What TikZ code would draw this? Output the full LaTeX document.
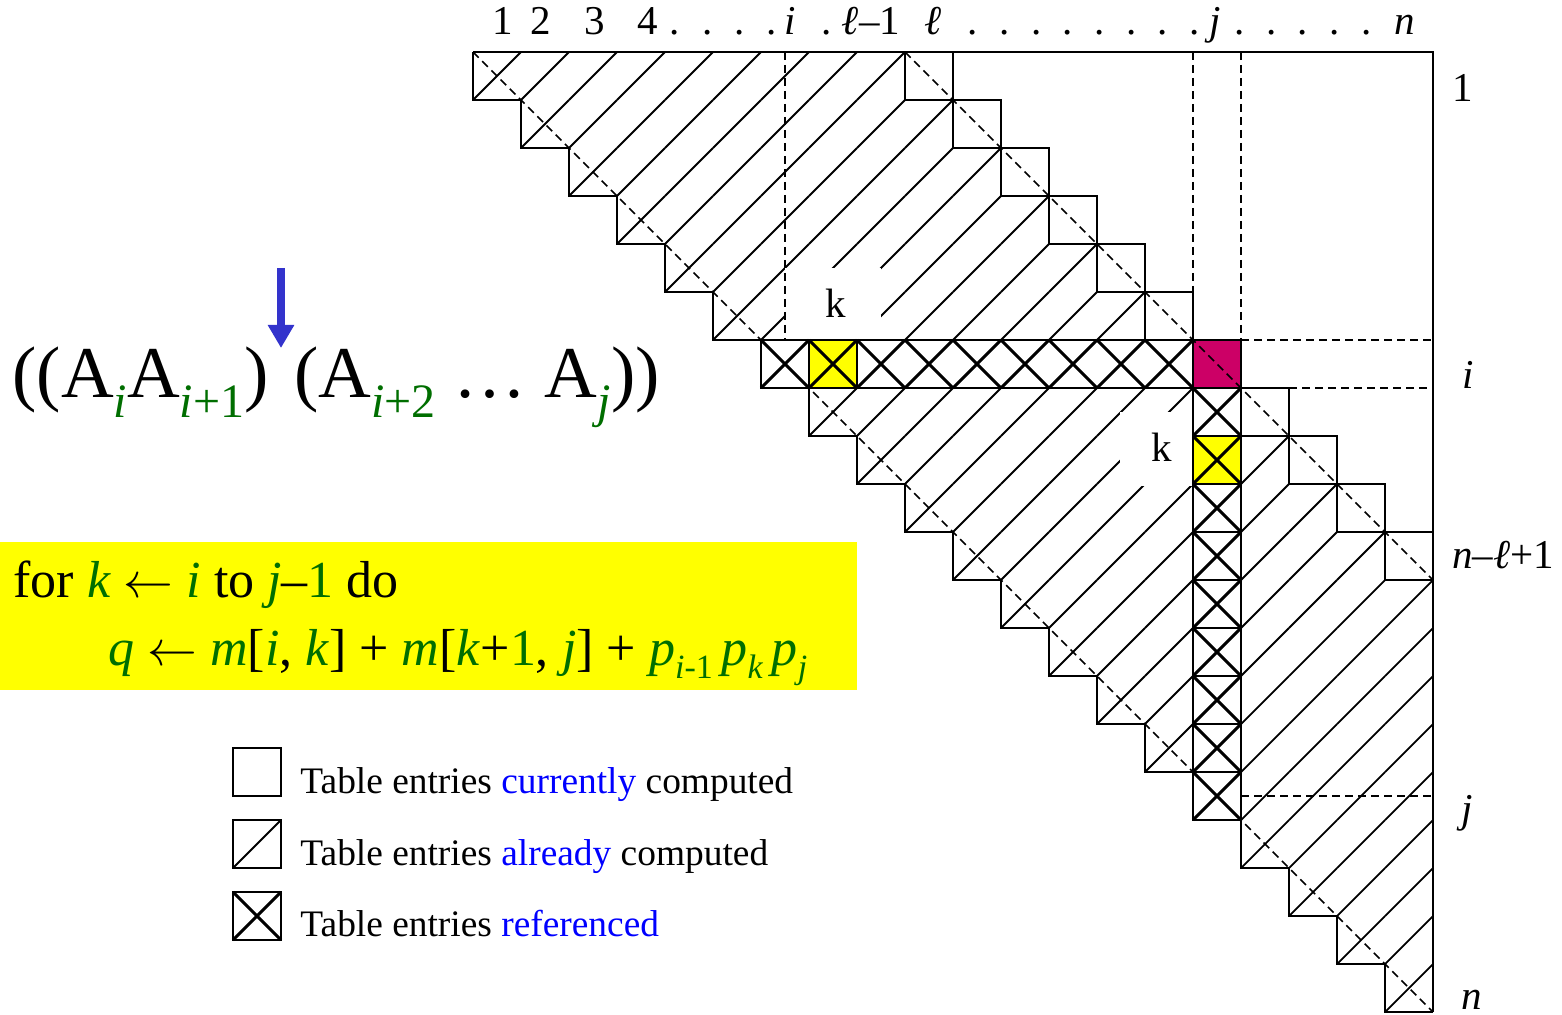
\documentclass[tikz,border=0pt]{standalone}
\usepackage{fontspec}
\setmainfont{Liberation Serif}
\usetikzlibrary{arrows.meta}
\definecolor{dgreen}{RGB}{0,110,0}
\definecolor{mag}{RGB}{204,0,102}
\definecolor{arrowblue}{RGB}{51,51,204}
\definecolor{lblue}{RGB}{0,0,255}
\definecolor{hiyellow}{RGB}{255,255,0}
\newcommand\gsub[1]{\raisebox{-0.27em}{\fontsize{24}{24}\selectfont\color{dgreen}#1}}
\newcommand\ysub[1]{\raisebox{-0.25em}{\fontsize{17}{17}\selectfont\color{dgreen}#1}}
\newcommand\gr[1]{\textcolor{dgreen}{#1}}
\newcommand\larr{\ensuremath{\leftarrow}}
\begin{document}
\begin{tikzpicture}[x=0.5pt,y=-0.5pt,
  hatch/.style={line width=0.9pt},
  xline/.style={line width=1.5pt},
  edge/.style={line width=1pt},
  dsh/.style={line width=0.8pt, dash pattern=on 4pt off 2.5pt},
  lbl/.style={font=\fontsize{20.5}{24}\selectfont, inner sep=0pt, anchor=base},
  legtext/.style={font=\fontsize{18.7}{22}\selectfont, inner sep=0pt, anchor=base west},
  codetext/.style={font=\fontsize{26}{30}\selectfont, inner sep=0pt, anchor=base west},
]
\useasboundingbox (0,0) rectangle (1562,1015);

% yellow code box
\fill[hiyellow] (0,542) rectangle (857,690);

% hatching of already computed entries
\foreach \r in {1,...,20}{
  \foreach \d in {0,...,8}{
    \pgfmathtruncatemacro\cc{\r+\d}
    \pgfmathtruncatemacro\ok{(\cc<21) && (\r!=7) && (\cc!=16)}
    \ifnum\ok=1
      \pgfmathsetmacro\xa{473+48*(\cc-1)}
      \pgfmathsetmacro\ya{52+48*\r}
      \draw[hatch] (\xa,\ya) -- (\xa+48,\ya-48);
    \fi
  }
}

% white label backgrounds
\fill[white] (785,268) rectangle (881,340);
\fill[white] (1120,412) rectangle (1193,486);

% coloured cells
\fill[hiyellow] (809,340) rectangle (857,388);
\fill[hiyellow] (1193,436) rectangle (1241,484);
\fill[mag] (1193,340) rectangle (1241,388);

% referenced cells
\foreach \cc in {7,...,15}{
  \pgfmathsetmacro\xa{473+48*(\cc-1)}
  \draw[xline] (\xa,340) -- (\xa+48,388) (\xa,388) -- (\xa+48,340);
}
\foreach \rr in {8,...,16}{
  \pgfmathsetmacro\ya{52+48*(\rr-1)}
  \draw[xline] (1193,\ya) -- (1241,\ya+48) (1193,\ya+48) -- (1241,\ya);
}
\draw[edge] (761,340) rectangle (1193,388);
\draw[edge] (809,340) rectangle (857,388);
\draw[edge] (1193,388) rectangle (1241,820);
\foreach \ya in {436,484,...,772}{ \draw[edge] (1193,\ya) -- (1241,\ya); }

% outlines and staircases
\draw[edge] (473,52) \foreach \k in {1,...,20}{ -- ++(0,48) -- ++(48,0) };
\draw[edge] (905,52) \foreach \k in {1,...,11}{ -- ++(0,48) -- ++(48,0) };
\draw[edge] (953,52) \foreach \k in {1,...,10}{ -- ++(0,48) -- ++(48,0) };
\draw[edge] (473,52) -- (1433,52) -- (1433,1012);

% dashed guides
\draw[dsh] (473,52) -- (1433,1012);
\draw[dsh] (905,52) -- (1433,580);
\draw[dsh] (785,52) -- (785,340);
\draw[dsh] (1193,52) -- (1193,340);
\draw[dsh] (1241,52) -- (1241,340);
\draw[dsh] (1241,340) -- (1433,340);
\draw[dsh] (1289,388) -- (1433,388);
\draw[dsh] (1241,796) -- (1433,796);

% k labels
\node[lbl] (k1) at (836,318) {k};
\node[lbl] (k2) at (1162,462) {k};

% column labels
\node[lbl] (t1) at (503,35) {1};
\node[lbl] (t2) at (541,35) {2};
\node[lbl] (t3) at (595,35) {3};
\node[lbl] (t4) at (648,35) {4};
\foreach \x [count=\n] in {675,708,740,772,827,973,1005,1037,1068,1100,1132,1163,1195,1240,1272,1303,1335,1367}
  \node[lbl] (dot\n) at (\x,35) {.};
\node[lbl] (ti) at (790,35) {\textit{i}};
\node[lbl] (tlm) at (871,35) {\textit{ℓ}–1};
\node[lbl] (tl) at (933,35) {\textit{ℓ}};
\node[lbl] (tj) at (1215,35) {\textit{j}};
\node[lbl] (tn) at (1405,35) {\textit{n}};

% row labels
\node[lbl] (r1) at (1463,102) {1};
\node[lbl] (ri) at (1468,389) {\textit{i}};
\node[lbl] (rnl) at (1503,568) {\textit{n}–\textit{ℓ}+1};
\node[lbl] (rj) at (1467,822) {\textit{j}};
\node[lbl] (rn) at (1472,1009) {\textit{n}};

% parenthesization
\node[inner sep=0pt, anchor=base west, font=\fontsize{36.5}{40}\selectfont] (formula) at (12,398)
  {((A\gsub{\textit{i}}A\gsub{\textit{i}+1})\hspace{0.35em}(A\gsub{\textit{i}+2} … A\gsub{\textit{j}}))};
\coordinate (arrtop) at (281,268);
\coordinate (arrtip) at (281,348);
\draw[arrowblue, line width=3.75pt, -{Triangle[length=11.5pt,width=12.5pt]}] (arrtop) -- (arrtip);

% code
\node[codetext] (code1) at (13,597)
  {for \gr{\textit{k}} \larr{} \gr{\textit{i}} to \gr{\textit{j}}–\gr{1} do};
\node[codetext] (code2) at (108,665)
  {\gr{\textit{q}} \larr{} \gr{\textit{m}}[\gr{\textit{i}}, \gr{\textit{k}}] + \gr{\textit{m}}[\gr{\textit{k}}+\gr{1}, \gr{\textit{j}}] + \gr{\textit{p}}\ysub{\textit{i}-1}\,\gr{\textit{p}}\ysub{\textit{k}}\,\gr{\textit{p}}\ysub{\textit{j}}};

% legend
\draw[edge] (233,748) rectangle (281,796);
\draw[edge] (233,820) rectangle (281,868);
\draw[hatch] (233,868) -- (281,820);
\draw[edge] (233,892) rectangle (281,940);
\draw[xline] (233,892) -- (281,940) (233,940) -- (281,892);
\node[legtext] (leg1) at (300,793) {Table entries \textcolor{lblue}{currently} computed};
\node[legtext] (leg2) at (300,865) {Table entries \textcolor{lblue}{already} computed};
\node[legtext] (leg3) at (300,936) {Table entries \textcolor{lblue}{referenced}};
\end{tikzpicture}
\end{document}
